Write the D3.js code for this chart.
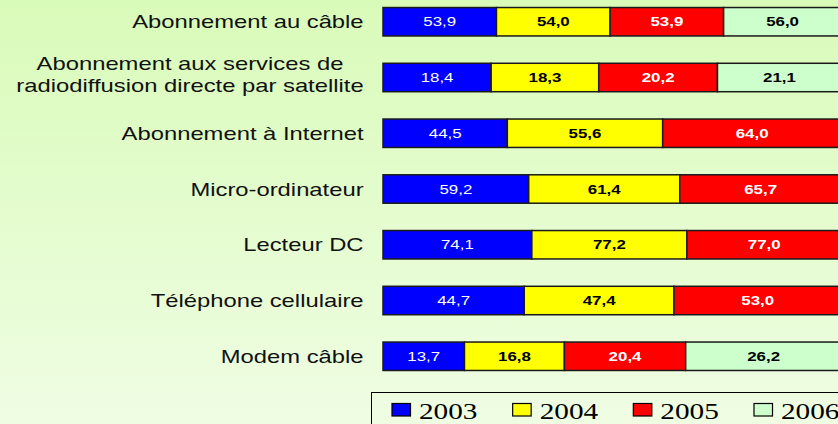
<!DOCTYPE html>
<html><head><meta charset="utf-8">
<script src="https://cdn.jsdelivr.net/npm/d3@7"></script>
<style>html,body{margin:0;padding:0;overflow:hidden}svg{display:block}</style>
</head><body>
<svg id="c" width="838" height="424"></svg>
<script>
const categories = [
  "Abonnement au câble",
  "Abonnement aux services de\nradiodiffusion directe par satellite",
  "Abonnement à Internet",
  "Micro-ordinateur",
  "Lecteur DC",
  "Téléphone cellulaire",
  "Modem câble"
];
const years = ["2003", "2004", "2005", "2006"];
const v2003 = [53.9, 18.4, 44.5, 59.2, 74.1, 44.7, 13.7];
const v2004 = [54.0, 18.3, 55.6, 61.4, 77.2, 47.4, 16.8];
const v2005 = [53.9, 20.2, 64.0, 65.7, 77.0, 53.0, 20.4];
const v2006 = [56.0, 21.1, null, null, null, null, 26.2];

const colors = ["#0000ff", "#ffff00", "#ff0000", "#ccffcc"];
const labelColors = ["#ffffff", "#000000", "#ffffff", "#000000"];
const labelWeights = ["normal", "bold", "bold", "bold"];
const SX = 1.3; // horizontal stretch of the original image's text

const series = [v2003, v2004, v2005, v2006];
const rows = categories.map((c, i) => {
  const o = {cat: c};
  years.forEach((y, k) => o[y] = series[k][i] == null ? 0 : series[k][i]);
  return o;
});
const stacked = d3.stack().keys(years).offset(d3.stackOffsetExpand)(rows);

const svg = d3.select("#c");
const defs = svg.append("defs");
const g = defs.append("linearGradient").attr("id", "bg").attr("x1", 0).attr("y1", 0).attr("x2", 0).attr("y2", 1);
g.append("stop").attr("offset", "0%").attr("stop-color", "#d9fbb9");
g.append("stop").attr("offset", "100%").attr("stop-color", "#effde3");
svg.append("rect").attr("width", 838).attr("height", 424).attr("fill", "url(#bg)");

const x = d3.scaleLinear().domain([0, 1]).range([383, 841.5]);
const y = d3.scaleBand().domain(categories).range([-19.8, 397.8]).padding(0.49);

// bars
stacked.forEach((s, k) => {
  const grp = svg.append("g");
  grp.selectAll("rect").data(s.filter(d => d[1] - d[0] > 0)).join("rect")
    .attr("x", d => x(d[0])).attr("y", d => y(d.data.cat))
    .attr("width", d => x(d[1]) - x(d[0])).attr("height", y.bandwidth())
    .attr("fill", colors[k]).attr("stroke", "#1a1a1a").attr("stroke-width", 1.5);
  grp.selectAll("text").data(s.filter(d => d[1] - d[0] > 0)).join("text")
    .attr("transform", d => `translate(${(x(d[0]) + x(d[1])) / 2},${y(d.data.cat) + y.bandwidth() / 2 + 4.5}) scale(${SX},1)`)
    .attr("text-anchor", "middle")
    .attr("font-family", "Liberation Sans, Arial, sans-serif")
    .attr("font-size", 13).attr("font-weight", labelWeights[k])
    .attr("fill", labelColors[k])
    .text(d => d3.format(".1f")(d.data[years[k]]).replace(".", ","));
});

// category labels
const labelRight = 363.5;
categories.forEach(c => {
  const lines = c.split("\n");
  const cy = y(c) + y.bandwidth() / 2;
  const grp = svg.append("g");
  const lh = 22.3;
  const base0 = cy + 6.5 - (lines.length - 1) * lh / 2 - (lines.length > 1 ? 3 : 0);
  const texts = lines.map((ln, i) => grp.append("text")
    .attr("font-family", "Liberation Sans, Arial, sans-serif")
    .attr("font-size", 18.3).attr("fill", "#111")
    .attr("text-anchor", "middle")
    .text(ln));
  const widths = texts.map(t => t.node().getComputedTextLength() * SX);
  const maxW = d3.max(widths);
  const cx = labelRight - maxW / 2;
  texts.forEach((t, i) => t.attr("transform", `translate(${cx},${base0 + i * lh}) scale(${SX},1)`));
});

// legend
const lg = svg.append("g");
lg.append("rect").attr("x", 371.5).attr("y", 392.5).attr("width", 480).attr("height", 60)
  .attr("fill", "none").attr("stroke", "#000").attr("stroke-width", 1);
const lx = d3.scalePoint().domain(years).range([392, 754]);
years.forEach((yr, k) => {
  lg.append("rect").attr("x", lx(yr)).attr("y", 403.5).attr("width", 18.5).attr("height", 12.5)
    .attr("fill", colors[k]).attr("stroke", "#000").attr("stroke-width", 1.2);
  lg.append("text")
    .attr("transform", `translate(${lx(yr) + 27},${419}) scale(${SX},1)`)
    .attr("font-family", "Liberation Serif, Times New Roman, serif")
    .attr("font-size", 22.5).attr("fill", "#000").text(yr);
});
</script>
</body></html>
